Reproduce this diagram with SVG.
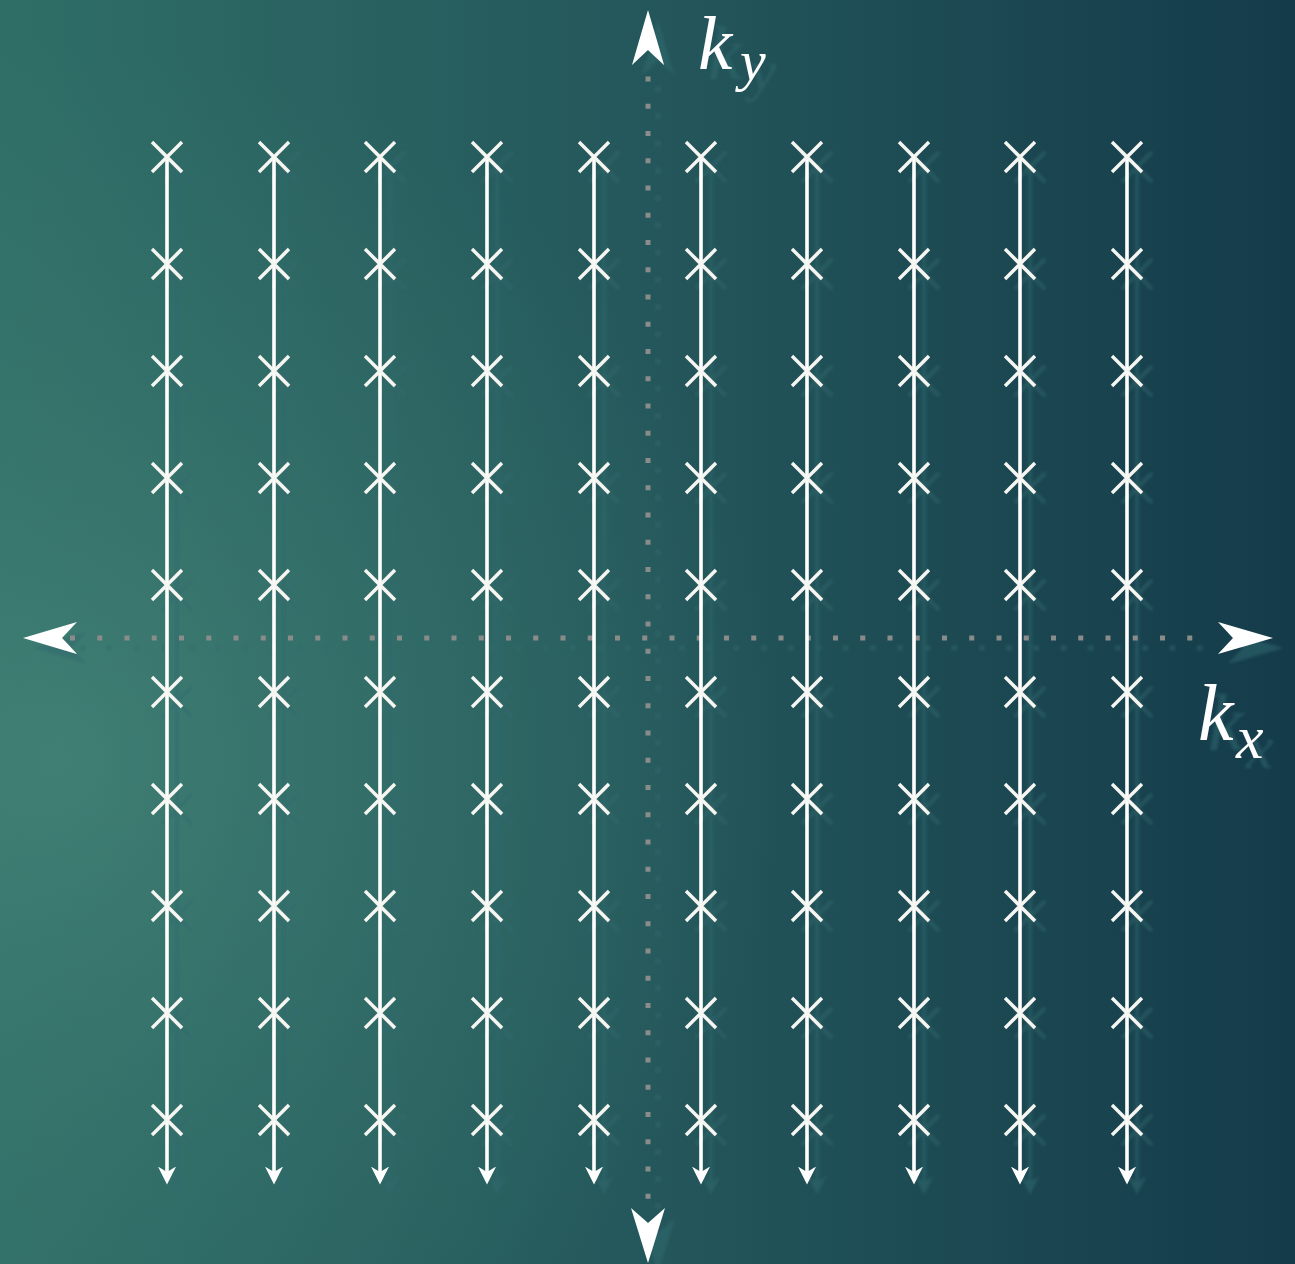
<svg xmlns="http://www.w3.org/2000/svg" width="1295" height="1264" viewBox="0 0 1295 1264">
  <defs>
    <linearGradient id="bg" x1="0" y1="0" x2="1" y2="0">
      <stop offset="0" stop-color="#2f6e67"/>
      <stop offset="0.5" stop-color="#24575b"/>
      <stop offset="1" stop-color="#143b4a"/>
    </linearGradient>
    <radialGradient id="glow" gradientUnits="userSpaceOnUse" cx="60" cy="760" r="720">
      <stop offset="0" stop-color="#4a8a7c" stop-opacity="0.65"/>
      <stop offset="0.6" stop-color="#3f7d72" stop-opacity="0.3"/>
      <stop offset="1" stop-color="#3f7d72" stop-opacity="0"/>
    </radialGradient>
    <filter id="shadow" x="-5%" y="-5%" width="115%" height="115%">
      <feColorMatrix in="SourceAlpha" type="matrix" values="0 0 0 0 0.03  0 0 0 0 0.14  0 0 0 0 0.16  0 0 0 0.55 0" result="dark"/>
      <feOffset in="dark" dx="10" dy="10" result="off"/>
      <feGaussianBlur in="off" stdDeviation="1.4" result="blur"/>
      <feMerge>
        <feMergeNode in="blur"/>
        <feMergeNode in="SourceGraphic"/>
      </feMerge>
    </filter>
    <marker id="ah" viewBox="0 0 10 10" refX="8" refY="5" markerWidth="5" markerHeight="5" markerUnits="strokeWidth" orient="auto">
      <path d="M0,0 L10,5 L0,10 L3,5 Z" fill="#ffffff"/>
    </marker>
    <path id="x" d="M-15,-15 L15,15 M15,-15 L-15,15"/>
    <g id="col">
      <line x1="0" y1="157" x2="0" y2="1181" class="ln" marker-end="url(#ah)"/>
      <use href="#x" y="157" class="cr"/>
      <use href="#x" y="264" class="cr"/>
      <use href="#x" y="371" class="cr"/>
      <use href="#x" y="478" class="cr"/>
      <use href="#x" y="585" class="cr"/>
      <use href="#x" y="692" class="cr"/>
      <use href="#x" y="799" class="cr"/>
      <use href="#x" y="906" class="cr"/>
      <use href="#x" y="1013" class="cr"/>
      <use href="#x" y="1120" class="cr"/>
    </g>
  </defs>
  <style>
    .ln { stroke: #ffffff; stroke-width: 3.6; fill: none; }
    .cr { stroke: #f6f6f2; stroke-width: 3.4; fill: none; }
    .dot { stroke: #8a8c8a; stroke-width: 5; fill: none; stroke-dasharray: 5 22.25; }
    .head { fill: #ffffff; }
    .lbl { font-family: "Liberation Serif", "DejaVu Serif", serif; font-style: italic; fill: #ffffff; }
  </style>
  <rect x="0" y="0" width="1295" height="1264" fill="url(#bg)"/>
  <rect x="0" y="0" width="1295" height="1264" fill="url(#glow)"/>
  <g filter="url(#shadow)">
    <g id="axes">
      <line class="dot" x1="70" y1="638" x2="1214" y2="638"/>
      <line class="dot" x1="648" y1="76.5" x2="648" y2="1210"/>
      <path class="head" d="M648,10 L664,65 L648,50 L632,65 Z"/>
      <path class="head" d="M648,1263 L665,1208 L648,1223 L631,1208 Z"/>
      <path class="head" d="M23,638 L77,622 L62,638 L77,654 Z"/>
      <path class="head" d="M1273,638 L1218,622 L1233,638 L1218,654 Z"/>
    </g>
    <g id="label-ky">
      <text class="lbl" x="698" y="69" font-size="77">k</text>
      <text class="lbl" x="740" y="80" font-size="58">y</text>
    </g>
    <g id="label-kx">
      <text class="lbl" x="1198" y="740" font-size="80">k</text>
      <text class="lbl" x="1236" y="758" font-size="62">x</text>
    </g>
    <g id="columns">
      <use href="#col" x="167"/>
      <use href="#col" x="274"/>
      <use href="#col" x="380"/>
      <use href="#col" x="487"/>
      <use href="#col" x="594"/>
      <use href="#col" x="701"/>
      <use href="#col" x="807"/>
      <use href="#col" x="914"/>
      <use href="#col" x="1020"/>
      <use href="#col" x="1127"/>
    </g>
  </g>
</svg>
